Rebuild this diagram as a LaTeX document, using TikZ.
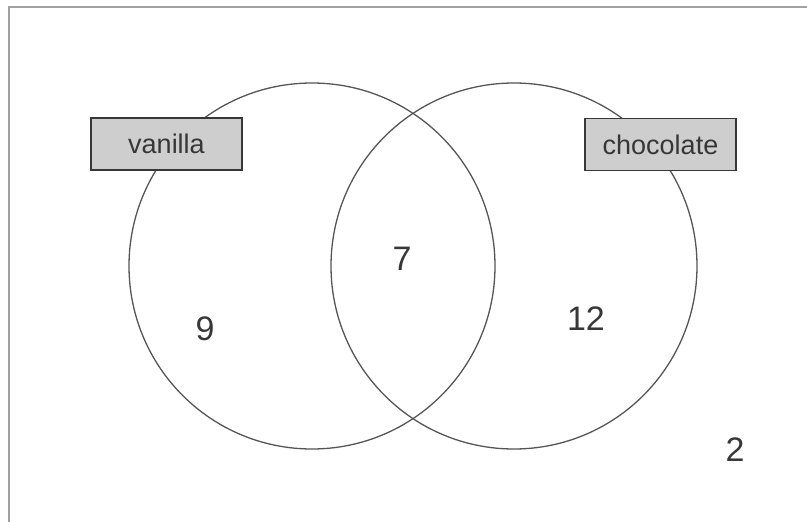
\documentclass[tikz,border=0pt]{standalone}
\usepackage{fontspec}
\setmainfont{Liberation Sans}
\usetikzlibrary{positioning}
\definecolor{framegray}{RGB}{160,160,160}
\definecolor{ringgray}{RGB}{85,85,85}
\definecolor{tagfill}{RGB}{206,206,206}
\definecolor{inkgray}{RGB}{55,55,55}
\tikzset{
  % Venn ring
  setring/.style={
    circle, draw=ringgray, line width=1.3pt, minimum size=366pt, inner sep=0pt
  },
  % Set name tag
  settag/.style={
    rectangle, draw=inkgray, fill=tagfill, line width=1.3pt,
    minimum width=151pt, minimum height=52pt, inner sep=0pt,
    text=inkgray, font=\fontsize{27}{32}\selectfont
  },
  % Region count
  count/.style={text=inkgray, font=\fontsize{34}{40}\selectfont, inner sep=0pt}
}
\begin{document}
\begin{tikzpicture}[x=1pt, y=-1pt]
  \useasboundingbox (0,0) rectangle (807,522);

  % Frame (only top and left edge visible)
  \draw[framegray, line width=2pt] (9,522) -- (9,7) -- (807,7);

  % Sets
  \node[setring] (vanset) at (312,266) {};
  \node[setring] (chocset) at (514,266) {};

  % Set names
  \node[settag] (vantag) at (166.5,144) {vanilla};
  \node[settag] (choctag) at (660.5,144.5) {chocolate};

  % Counts
  \node[count] (vanonly) at (205,329) {9};
  \node[count] (both) at (402,259) {7};
  \node[count] (choconly) at (586,319) {12};
  \node[count] (neither) at (735,450) {2};
\end{tikzpicture}
\end{document}
